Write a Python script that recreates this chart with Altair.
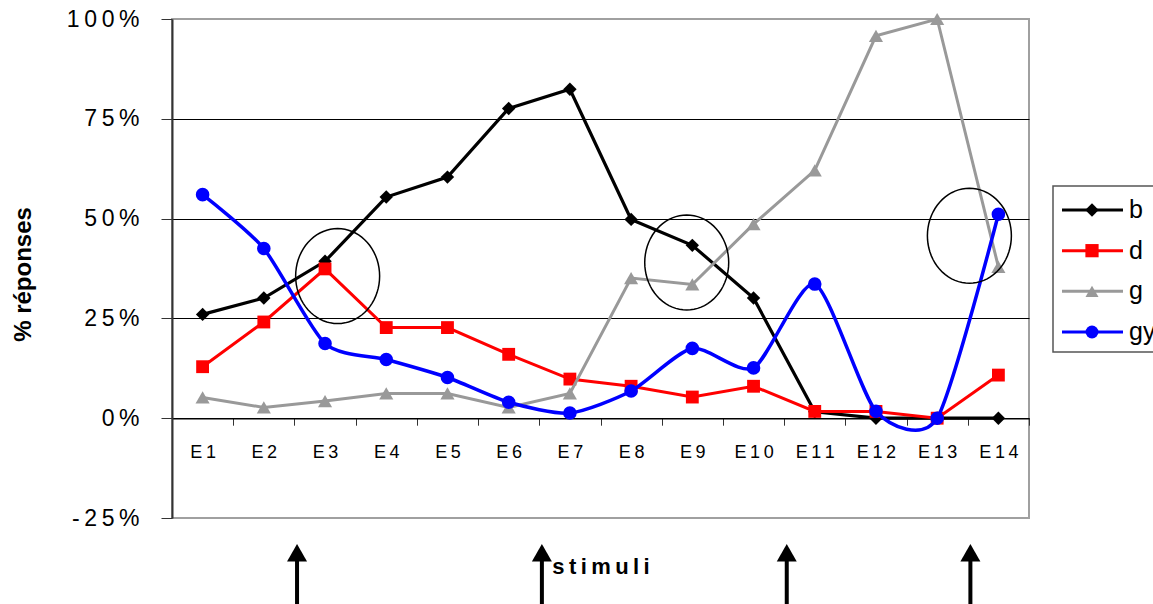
import altair as alt
import numpy as np
import pandas as pd

# ---- data -------------------------------------------------------------
categories = ["E1", "E2", "E3", "E4", "E5", "E6", "E7",
              "E8", "E9", "E10", "E11", "E12", "E13", "E14"]
series_names = ["b", "d", "g", "gy"]

b_values = [26.0, 30.1, 39.3, 55.4, 60.4, 77.6, 82.4, 49.8, 43.3, 30.1, 1.6, 0.0, 0.0, 0.0]
d_values = [12.9, 24.1, 37.4, 22.7, 22.7, 16.0, 9.8, 8.0, 5.3, 8.0, 1.7, 1.7, 0.0, 10.8]
g_values = [5.2, 2.7, 4.3, 6.2, 6.2, 2.7, 6.2, 35.1, 33.5, 48.6, 62.1, 95.8, 100.0, 37.9]
gy_values = [56.0, 42.5, 18.7, 14.7, 10.2, 4.0, 1.3, 6.8, 17.5, 12.6, 33.6, 1.75, 0.0, 51.1]

colors = ["#000000", "#ff0000", "#999999", "#0000ff"]
shapes = ["diamond", "square", "triangle-up", "circle"]
marker_sizes = [180, 165, 200, 185]
line_widths = [3.2, 3.0, 3.0, 3.5]

# highlighted regions (stimulus, level, horizontal shift in px)
ring_stimuli = ["E3", "E9", "E14"]
ring_levels = [35.6, 39.0, 45.7]
ring_shift = [12.6, -5.6, -29.0]

# stimulus arrows drawn under the axis
arrow_stimuli = ["E3", "E7", "E11", "E14"]

font = "Liberation Sans, Arial, sans-serif"
THIN = "\u2009"  # used to space out the letters of axis texts

rows = []
for name, vals in zip(series_names, [b_values, d_values, g_values, gy_values]):
    for cat, v in zip(categories, vals):
        rows.append({"stimulus": cat, "serie": name, "pct": v / 100.0})
df = pd.DataFrame(rows)

# ---- shared encodings ---------------------------------------------------
x_axis = alt.Axis(
    title=THIN.join("stimuli"), offset=-99.8, tickBand="extent", labelAngle=0,
    labelExpr=f"join(split(datum.label, ''), '{THIN}')",
    labelFont=font, labelFontSize=18, labelPadding=18, labelColor="black",
    tickSize=7, tickColor="#333333", tickWidth=1,
    domainColor="black", domainWidth=1.5, grid=False,
    titleFont=font, titleFontSize=22, titleFontWeight="bold", titleColor="black",
    titleY=155, titleBaseline="alphabetic",
)
x_enc = alt.X("stimulus:N", sort=categories,
              scale=alt.Scale(domain=categories, paddingInner=0, paddingOuter=0),
              axis=x_axis)

y_axis = alt.Axis(
    values=[-0.25, 0, 0.25, 0.5, 0.75, 1.0], format=".0%",
    labelExpr=f"join(split(replace(datum.label, '\u2212', '-'), ''), '{THIN}')",
    title="% réponses", titleFont=font, titleFontSize=24, titleFontWeight="bold",
    titleColor="black", titleAngle=-90, titleX=-142, titleY=255,
    titleAlign="center", titleBaseline="alphabetic",
    labelFont=font, labelFontSize=23, labelPadding=22, labelColor="black",
    tickSize=11, tickColor="#333333", domainColor="#333333", domainWidth=2,
    grid=True, gridWidth=1,
    gridColor={"condition": {"test": "datum.value > 0.99 || datum.value < -0.2",
                             "value": "#a0a0a0"},
               "value": "black"},
)
y_scale = alt.Scale(domain=[-0.25, 1.0], nice=False, zero=False)
y_enc = alt.Y("pct:Q", scale=y_scale, axis=y_axis)

# ---- series -------------------------------------------------------------
layers = []
for name, col, shp, sz, lw in zip(series_names, colors, shapes, marker_sizes, line_widths):
    base = alt.Chart(df).transform_filter(alt.datum.serie == name)
    if name == "gy":
        line = base.mark_line(color=col, strokeWidth=lw, interpolate="cardinal", tension=0.3)
    else:
        line = base.mark_line(color=col, strokeWidth=lw)
    layers.append(line.encode(x=x_enc, y=y_enc))
    layers.append(
        base.mark_point(filled=True, color=col, shape=shp, size=sz, opacity=1)
        .encode(x=x_enc, y=y_enc)
    )

# ---- ellipses around the crossing points --------------------------------
t = np.linspace(0, 2 * np.pi, 73)[:-1]
ellipse_path = "M " + " L ".join(f"{0.884 * np.cos(a):.4f} {np.sin(a):.4f}" for a in t) + " Z"
for cat, lvl, dx in zip(ring_stimuli, ring_levels, ring_shift):
    ring_df = pd.DataFrame({"stimulus": [cat], "pct": [lvl / 100.0]})
    layers.append(
        alt.Chart(ring_df)
        .mark_point(shape=ellipse_path, size=9025, filled=False, stroke="black",
                    strokeWidth=1.5, opacity=1, xOffset=dx)
        .encode(x=x_enc, y=y_enc)
    )

# ---- arrows marking the stimulus boundaries -----------------------------
arrow_df = pd.DataFrame({"stimulus": arrow_stimuli,
                         "top": [-0.34] * 4, "bottom": [-0.50] * 4, "head": [-0.337] * 4})
layers.append(
    alt.Chart(arrow_df).mark_rule(color="black", strokeWidth=4, xOffset=-28)
    .encode(x=x_enc, y=alt.Y("top:Q", scale=y_scale, axis=y_axis), y2="bottom:Q")
)
layers.append(
    alt.Chart(arrow_df).mark_point(shape="triangle-up", filled=True, color="black",
                                   size=400, opacity=1, xOffset=-28)
    .encode(x=x_enc, y=alt.Y("head:Q", scale=y_scale, axis=y_axis))
)

main = alt.layer(*layers)

# ---- legend --------------------------------------------------------------
leg_df = pd.DataFrame({"serie": series_names, "rank": [0, 1, 2, 3]})
leg_y = alt.Y("rank:Q", scale=alt.Scale(domain=[0, 3], range=[191, 313], nice=False, zero=False),
              axis=None)
leg_color = alt.Color("serie:N", scale=alt.Scale(domain=series_names, range=colors), legend=None)
leg_shape = alt.Shape("serie:N", scale=alt.Scale(domain=series_names, range=shapes), legend=None)
leg_size = alt.Size("serie:N", scale=alt.Scale(domain=series_names, range=marker_sizes), legend=None)

leg_box = alt.Chart(pd.DataFrame({"k": [0]})).mark_rect(
    fill="white", stroke="#555555", strokeWidth=1.5
).encode(x=alt.value(881), x2=alt.value(995), y=alt.value(167), y2=alt.value(333))
leg_lines = alt.Chart(leg_df).mark_rule(strokeWidth=3).encode(
    x=alt.value(890), x2=alt.value(951), y=leg_y, color=leg_color)
leg_marks = alt.Chart(leg_df).mark_point(filled=True, opacity=1).encode(
    x=alt.value(920), y=leg_y, color=leg_color, shape=leg_shape, size=leg_size)
leg_text = alt.Chart(leg_df).mark_text(
    align="left", baseline="middle", font=font, fontSize=25, color="black"
).encode(x=alt.value(957), y=leg_y, text="serie:N")

legend = alt.layer(leg_box, leg_lines, leg_marks, leg_text)

chart = (
    alt.layer(main, legend)
    .resolve_scale(y="independent")
    .properties(
        width=857, height=499,
        autosize=alt.AutoSizeParams(type="none"),
        padding={"left": 172, "top": 19, "right": 124, "bottom": 86},
        background="white",
    )
    .configure_view(stroke="#a0a0a0", strokeWidth=2)
)

chart.save("out.html", embed_options={"renderer": "svg", "actions": False})
